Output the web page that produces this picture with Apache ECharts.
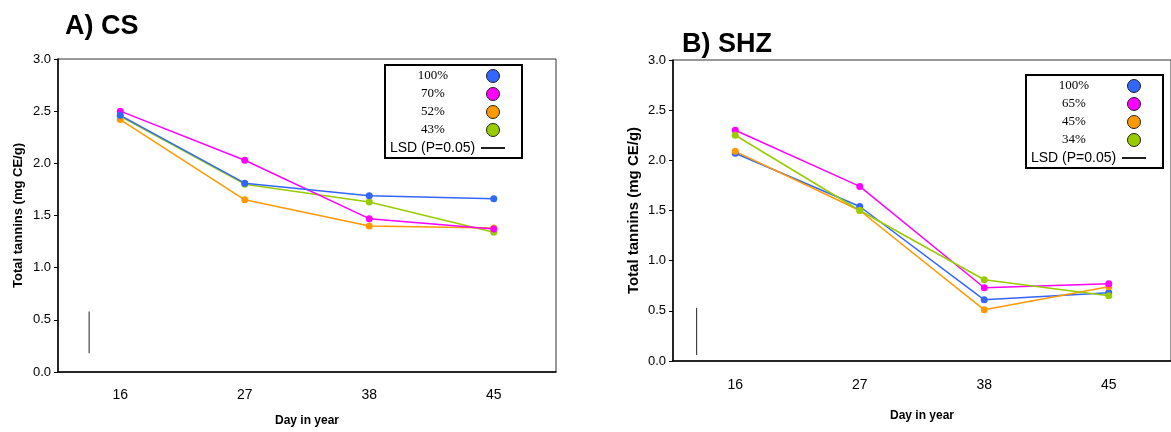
<!DOCTYPE html>
<html>
<head>
<meta charset="utf-8">
<script src="https://cdn.jsdelivr.net/npm/echarts@6/dist/echarts.min.js"></script>
<style>
  html, body { margin: 0; padding: 0; background: #fff; }
  #chart { width: 1171px; height: 432px; }
</style>
</head>
<body>
<div id="chart"></div>
<script>
var days = ["16", "27", "38", "45"];
var colors = ["#3366ff", "#ff00ff", "#ff9900", "#99cc00"];
var lsdName = "LSD (P=0.05)";

// A) CS
var csNames = ["100%", "70%", "52%", "43%"];
var cs100 = [2.46, 1.81, 1.69, 1.66];
var cs70 = [2.50, 2.03, 1.47, 1.37];
var cs52 = [2.42, 1.65, 1.40, 1.38];
var cs43 = [2.45, 1.80, 1.63, 1.34];
var csLsd = [0.18, 0.58];
var csLsdAt = -0.25; // position on the day axis, left of day 16

// B) SHZ
var shzNames = ["100%", "65%", "45%", "34%"];
var shz100 = [2.07, 1.54, 0.61, 0.68];
var shz65 = [2.30, 1.74, 0.73, 0.77];
var shz45 = [2.09, 1.50, 0.51, 0.74];
var shz34 = [2.25, 1.50, 0.81, 0.65];
var shzLsd = [0.06, 0.53];
var shzLsdAt = -0.31;

var sans = "Liberation Sans";

function lineSeries(name, data, color, grid) {
  return {
    type: "line",
    name: name,
    xAxisIndex: grid,
    yAxisIndex: grid,
    data: data,
    symbol: "circle",
    symbolSize: 7,
    lineStyle: { color: color, width: 1.5 },
    itemStyle: { color: color },
    emphasis: { disabled: true }
  };
}

function lsdSeries(vals, at, grid) {
  return {
    type: "line",
    name: lsdName,
    xAxisIndex: grid + 2,
    yAxisIndex: grid,
    data: [[at, vals[0]], [at, vals[1]]],
    symbol: "none",
    silent: true,
    lineStyle: { color: "#222", width: 1 },
    itemStyle: { color: "#000" }
  };
}

function catAxis(grid, margin, gap) {
  return {
    type: "category",
    gridIndex: grid,
    data: days,
    axisLine: { onZero: false, lineStyle: { color: "#000", width: 1.5 } },
    axisTick: { length: 6, lineStyle: { color: "#000" } },
    axisLabel: { margin: margin, fontSize: 14, color: "#000", fontFamily: sans },
    name: "Day in year",
    nameLocation: "middle",
    nameGap: gap,
    nameTextStyle: { fontWeight: "bold", fontSize: 12, color: "#000", fontFamily: sans }
  };
}

function valAxis(grid, nameSize, gap) {
  return {
    type: "value",
    gridIndex: grid,
    min: 0,
    max: 3,
    interval: 0.5,
    axisLine: { show: true, onZero: false, lineStyle: { color: "#000", width: 1.5 } },
    axisTick: { show: true, length: 4, lineStyle: { color: "#000" } },
    splitLine: { show: false },
    axisLabel: {
      margin: 7, fontSize: 13, color: "#000", fontFamily: sans,
      formatter: function (v) { return v.toFixed(1); }
    },
    name: "Total tannins (mg CE/g)",
    nameLocation: "middle",
    nameGap: gap,
    nameTextStyle: { fontWeight: "bold", fontSize: nameSize, color: "#000", fontFamily: sans }
  };
}

function hiddenAxis(grid) {
  return { type: "value", gridIndex: grid, min: -0.5, max: 3.5, show: false, axisLine: { onZero: false } };
}

function legendBox(names, left, top) {
  var items = names.map(function (n) { return { name: n, icon: "circle" }; });
  items.push({ name: lsdName, icon: "path://M0,0H27V2H0Z", itemStyle: { color: "#000", borderWidth: 0 } });
  return {
    data: items,
    orient: "vertical",
    align: "right",
    left: left,
    top: top,
    itemWidth: 24,
    itemHeight: 13,
    itemGap: 4,
    padding: [4, 17, 3, 5],
    borderColor: "#000",
    borderWidth: 2,
    borderRadius: 0,
    backgroundColor: "#fff",
    selectedMode: false,
    itemStyle: { borderColor: "#222", borderWidth: 1 },
    formatter: function (name) {
      return name === lsdName ? "{l|" + name + "}" : "{s|" + name + "}";
    },
    textStyle: {
      color: "#000",
      rich: {
        s: { fontFamily: "Liberation Serif", fontSize: 13, width: 86, align: "center", lineHeight: 16, color: "#000" },
        l: { fontFamily: sans, fontSize: 14, width: 86, align: "left", lineHeight: 16, color: "#000" }
      }
    }
  };
}

var titleStyle = { fontSize: 27, fontWeight: "bold", fontFamily: sans, color: "#000" };

var option = {
  animation: false,
  backgroundColor: "#fff",
  title: [
    { text: "A) CS", left: 65, top: 13, padding: 0, textStyle: titleStyle },
    { text: "B) SHZ", left: 682, top: 31, padding: 0, textStyle: titleStyle }
  ],
  grid: [
    { left: 58, top: 59, width: 498, height: 315, show: true, borderColor: "#333", borderWidth: 1 },
    { left: 673, top: 60, width: 500, height: 301, show: true, borderColor: "#333", borderWidth: 1 }
  ],
  xAxis: [
    catAxis(0, 16, 43),
    catAxis(1, 17, 49),
    hiddenAxis(0),
    hiddenAxis(1)
  ],
  yAxis: [
    valAxis(0, 13, 33),
    valAxis(1, 15, 32)
  ],
  legend: [
    legendBox(csNames, 385, 65),
    legendBox(shzNames, 1026, 75)
  ],
  series: [
    lineSeries(csNames[3], cs43, colors[3], 0),
    lineSeries(csNames[2], cs52, colors[2], 0),
    lineSeries(csNames[1], cs70, colors[1], 0),
    lineSeries(csNames[0], cs100, colors[0], 0),
    lsdSeries(csLsd, csLsdAt, 0),
    lineSeries(shzNames[0], shz100, colors[0], 1),
    lineSeries(shzNames[2], shz45, colors[2], 1),
    lineSeries(shzNames[1], shz65, colors[1], 1),
    lineSeries(shzNames[3], shz34, colors[3], 1),
    lsdSeries(shzLsd, shzLsdAt, 1)
  ]
};

var chart = echarts.init(document.getElementById("chart"));
chart.setOption(option);
</script>
</body>
</html>
